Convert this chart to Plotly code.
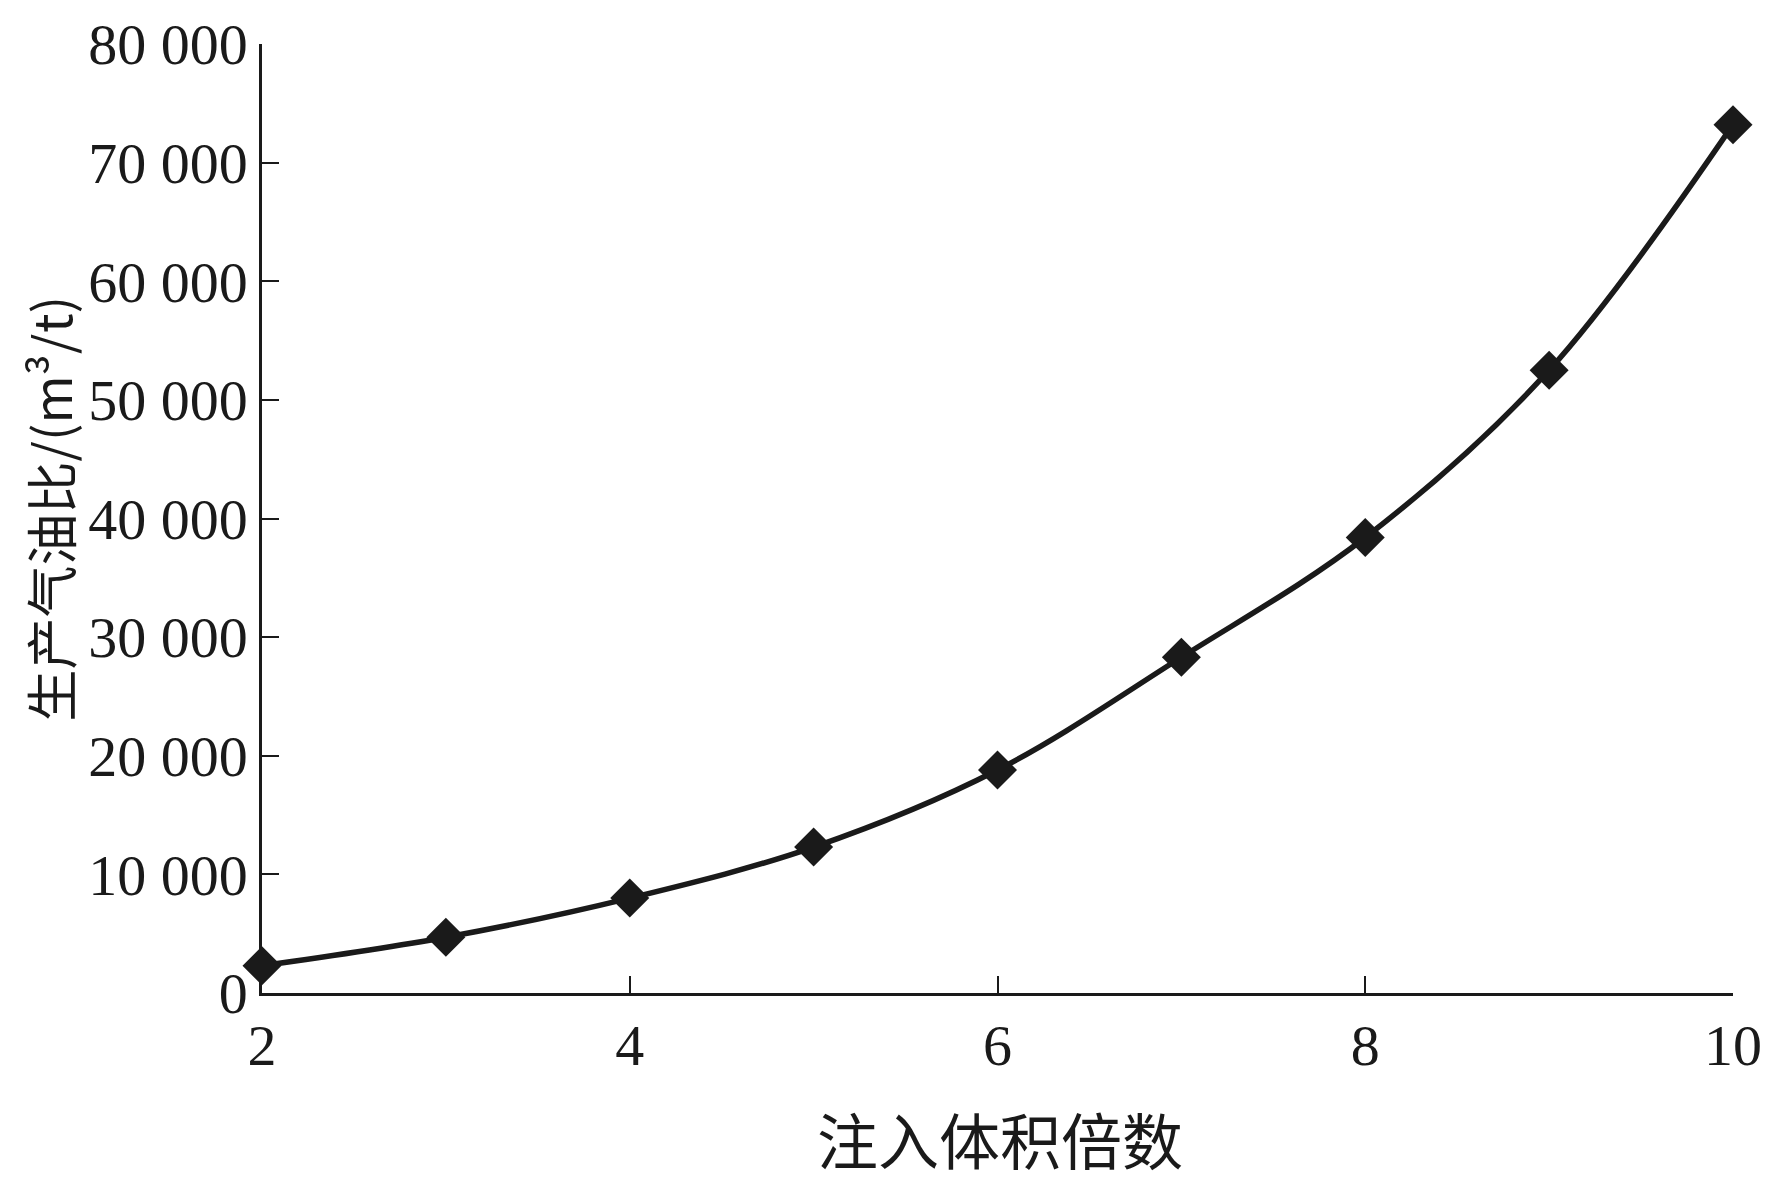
import plotly.graph_objects as go

# Data
injection_multiple = [2, 3, 4, 5, 6, 7, 8, 9, 10]
gas_oil_ratio = [2300, 4700, 8000, 12300, 18800, 28300, 38400, 52500, 73200]

x_ticks = [2, 4, 6, 8, 10]
y_ticks = [0, 10000, 20000, 30000, 40000, 50000, 60000, 70000, 80000]

x_title = "注入体积倍数"
y_title = "生产气油比/(m³/t)"

ink = "#1a1a1a"
serif = "Liberation Serif, Times New Roman, serif"
cjk = "Noto Sans CJK SC, Liberation Serif, serif"

fig = go.Figure()
fig.add_trace(go.Scatter(
    x=injection_multiple,
    y=gas_oil_ratio,
    mode="lines+markers",
    line=dict(color=ink, width=5.5, shape="spline", smoothing=1),
    marker=dict(symbol="diamond", size=30, color=ink),
    cliponaxis=False,
    showlegend=False,
))

fig.update_layout(
    width=1772,
    height=1184,
    paper_bgcolor="white",
    plot_bgcolor="white",
    separators=". ",
    margin=dict(l=254, r=47, t=36, b=199),
    font=dict(family=serif, color=ink),
)

fig.update_xaxes(
    range=[2, 10],
    tickvals=x_ticks,
    ticks="inside",
    ticklen=17,
    tickwidth=2,
    tickcolor=ink,
    showline=True,
    linecolor=ink,
    linewidth=2.5,
    showgrid=False,
    zeroline=False,
    automargin=False,
    tickfont=dict(family=serif, size=58, color=ink),
)

fig.update_yaxes(
    range=[0, 80000],
    tickvals=y_ticks,
    tickformat=",d",
    ticks="inside",
    ticklen=17,
    tickwidth=2,
    tickcolor=ink,
    showline=True,
    linecolor=ink,
    linewidth=2.5,
    showgrid=False,
    zeroline=False,
    automargin=False,
    tickfont=dict(family=serif, size=58, color=ink),
)

fig.add_annotation(
    text=x_title, xref="paper", yref="paper", x=0.502, y=-0.153,
    xanchor="center", yanchor="middle", showarrow=False,
    font=dict(family=cjk, size=61, color=ink),
)
fig.add_annotation(
    text=y_title, xref="paper", yref="paper", x=-0.1445, y=0.511,
    xanchor="center", yanchor="middle", showarrow=False, textangle=-90,
    borderpad=0,
    font=dict(family=cjk, size=52, color=ink),
)

fig.write_html("out.html")
